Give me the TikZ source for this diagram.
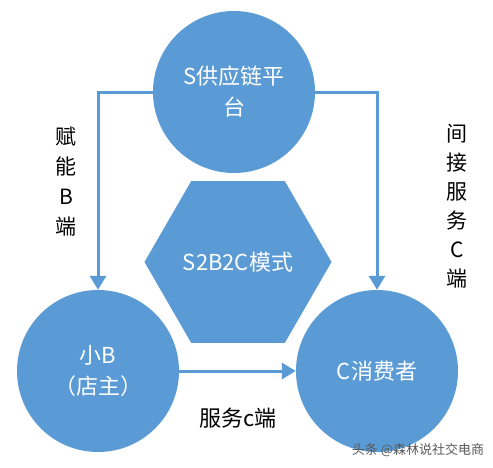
\documentclass[tikz,border=0pt]{standalone}
\usepackage{fontspec}
\setmainfont{Noto Sans CJK SC}
\usetikzlibrary{shapes.geometric,arrows.meta}
\definecolor{officeblue}{HTML}{5B9BD5}
\tikzset{
  bluecircle/.style={circle,fill=officeblue,draw=none,minimum size=162pt,inner sep=0pt,align=center,text=white,font=\fontsize{22}{31}\selectfont},
  hexnode/.style={regular polygon,regular polygon sides=6,fill=officeblue,draw=none,minimum size=187pt,inner sep=0pt,text=white,font=\fontsize{22}{31}\selectfont},
  connector/.style={draw=officeblue,line width=3pt,-{Triangle[width=16pt,length=14pt]}},
  sidelabel/.style={align=center,text=black,font=\fontsize{21}{30}\selectfont},
  marklabel/.style={text=black!65,font=\fontsize{13}{15}\selectfont}
}
\begin{document}
\begin{tikzpicture}[x=1pt,y=-1pt]
\useasboundingbox (0,0) rectangle (493,467);
\fill[white] (0,0) rectangle (493,467);
\node[hexnode] (hex) at (238,262) {S2B2C模式};
\node[bluecircle] (top) at (234,92) {S供应链平\\台};
\node[bluecircle] (bl) at (98,371) {小B\\（店主）};
\node[bluecircle] (br) at (377,371) {C消费者};
\draw[connector] (top) -| (bl);
\draw[connector] (top) -| (br);
\draw[connector] (bl) -- (br);
\node[sidelabel] (lab1) at (66,182) {赋\\能\\B\\端};
\node[sidelabel,font=\fontsize{21}{29}\selectfont] (lab2) at (457,206) {间\\接\\服\\务\\C\\端};
\node[text=black,font=\fontsize{22}{26}\selectfont] (lab3) at (238,418) {服务c端};
\node[marklabel] (mark) at (418,450) {头条 @森林说社交电商};
\end{tikzpicture}
\end{document}
